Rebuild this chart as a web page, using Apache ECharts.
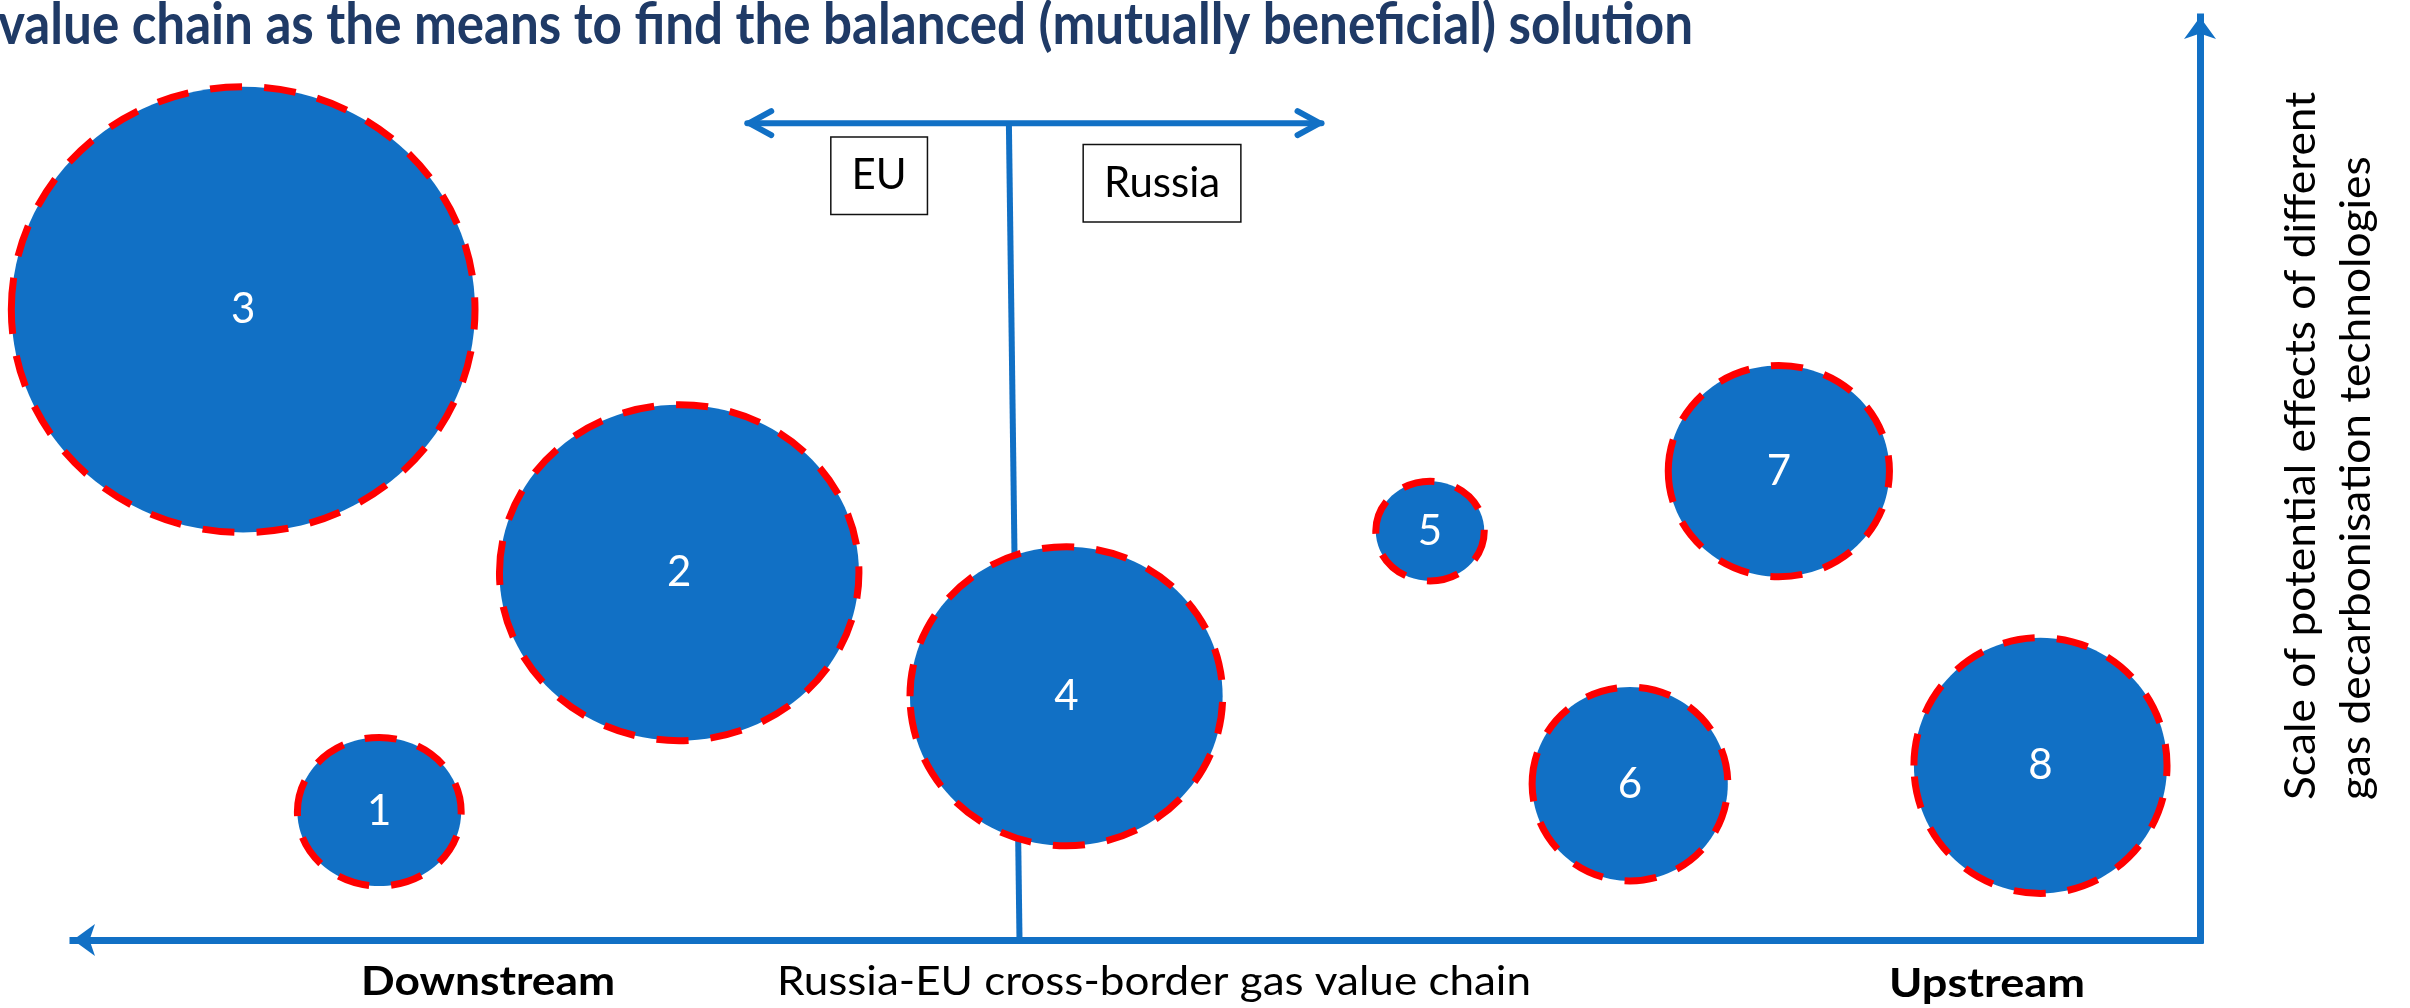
<!DOCTYPE html>
<html>
<head>
<meta charset="utf-8">
<title>Russia-EU cross-border gas value chain</title>
<script src="https://cdn.jsdelivr.net/npm/echarts@6/dist/echarts.min.js"></script>
<style>
  html, body { margin: 0; padding: 0; background: #fff; }
  #chart { width: 2410px; height: 1008px; }
</style>
</head>
<body>
<div id="chart"></div>
<script>
// technologies: position along the chain (0 = downstream, 100 = upstream)
// and scale of effect (0..100), bubble extent in axis units
const techIds   = ['1', '2', '3', '4', '5', '6', '7', '8'];
const chainPos  = [14.4, 28.5, 8.0, 46.7, 63.8, 73.2, 80.2, 92.5];
const effectLvl = [13.9, 39.8, 68.3, 26.4, 44.3, 16.9, 50.8, 18.9];
const bubbleW   = [7.7, 16.9, 21.8, 14.7, 5.1, 9.2, 10.4, 11.9];
const bubbleH   = [16.1, 36.4, 48.3, 32.4, 10.8, 21.0, 22.9, 27.7];

// EU | Russia border marker
const borderBar  = [[31.7, 88.5], [58.7, 88.5]];
const borderStem = [[44.0, 88.5], [44.5, 0]];
const sideNames  = ['EU', 'Russia'];
const sideX      = [37.9, 51.2];
const sideY      = [82.8, 82.0];

const BLUE = '#1170C5';
const RED = '#FF0000';
const NAVY = '#1F3A66';

const measureCtx = document.createElement('canvas').getContext('2d');
// horizontal squeeze so the text fills the given width (source font is condensed)
function squeeze(text, font, width) {
  measureCtx.font = font;
  return width / measureCtx.measureText(text).width;
}

const chart = echarts.init(document.getElementById('chart'), null, { renderer: 'canvas' });

const titleText = 'value chain as the means to find the balanced (mutually beneficial) solution';
const titleFont = 'bold 57px Lato';
const sideLine1 = 'Scale of potential effects of different';
const sideLine2 = 'gas decarbonisation technologies';
const sideFont = '42px Lato';
const sideScale = squeeze(sideLine1, sideFont, 708);

chart.setOption({
  animation: false,
  backgroundColor: '#fff',
  grid: { left: 73, right: 210, top: 17, bottom: 68 },
  xAxis: {
    type: 'value', min: 0, max: 100,
    axisLine: {
      show: true, onZero: false,
      symbol: ['arrow', 'none'], symbolSize: [24, 22],
      lineStyle: { color: BLUE, width: 7, cap: 'square' },
    },
    axisTick: { show: false }, axisLabel: { show: false }, splitLine: { show: false },
  },
  yAxis: {
    type: 'value', min: 0, max: 100, position: 'right',
    axisLine: {
      show: true, onZero: false,
      symbol: ['none', 'arrow'], symbolSize: [24, 22],
      lineStyle: { color: BLUE, width: 7, cap: 'square' },
    },
    axisTick: { show: false }, axisLabel: { show: false }, splitLine: { show: false },
  },
  graphic: [
    {
      type: 'text', x: -2, y: 26, scaleX: squeeze(titleText, titleFont, 1695),
      style: { text: titleText, font: titleFont, fill: NAVY, align: 'left', verticalAlign: 'middle' },
    },
    {
      type: 'text', x: 488, y: 982, scaleX: squeeze('Downstream', 'bold 40px Lato', 254),
      style: { text: 'Downstream', font: 'bold 40px Lato', fill: '#000', align: 'center', verticalAlign: 'middle' },
    },
    {
      type: 'text', x: 1154, y: 982,
      scaleX: squeeze('Russia-EU cross-border gas value chain', '40px Lato', 754),
      style: { text: 'Russia-EU cross-border gas value chain', font: '40px Lato', fill: '#000', align: 'center', verticalAlign: 'middle' },
    },
    {
      type: 'text', x: 1987, y: 984, scaleX: squeeze('Upstream', 'bold 40px Lato', 196),
      style: { text: 'Upstream', font: 'bold 40px Lato', fill: '#000', align: 'center', verticalAlign: 'middle' },
    },
    {
      type: 'text', x: 2301, y: 800, rotation: Math.PI / 2, scaleX: sideScale,
      style: { text: sideLine1, font: sideFont, fill: '#000', align: 'left', verticalAlign: 'middle' },
    },
    {
      type: 'text', x: 2356, y: 800, rotation: Math.PI / 2, scaleX: sideScale,
      style: { text: sideLine2, font: sideFont, fill: '#000', align: 'left', verticalAlign: 'middle' },
    },
  ],
  series: [
    {
      // T-shaped EU/Russia border marker
      type: 'custom',
      name: 'border',
      z: 1,
      clip: false,
      silent: true,
      data: [[borderStem[0][0], 50]],
      renderItem: (params, api) => {
        const a = api.coord(borderBar[0]);
        const b = api.coord(borderBar[1]);
        const s0 = api.coord(borderStem[0]);
        const s1 = api.coord(borderStem[1]);
        const st = { stroke: BLUE, lineWidth: 6, fill: null, lineCap: 'round', lineJoin: 'round' };
        return {
          type: 'group',
          children: [
            { type: 'line', shape: { x1: a[0], y1: a[1], x2: b[0], y2: b[1] }, style: st },
            { type: 'polyline', shape: { points: [[a[0] + 24, a[1] - 12], [a[0] + 2, a[1]], [a[0] + 24, a[1] + 12]] }, style: st },
            { type: 'polyline', shape: { points: [[b[0] - 24, b[1] - 12], [b[0] - 2, b[1]], [b[0] - 24, b[1] + 12]] }, style: st },
            { type: 'line', shape: { x1: s0[0], y1: s0[1], x2: s1[0], y2: s1[1] }, style: { stroke: BLUE, lineWidth: 6 } },
          ],
        };
      },
    },
    {
      type: 'custom',
      name: 'sides',
      z: 2,
      clip: false,
      silent: true,
      data: sideNames.map((n, i) => [sideX[i], sideY[i]]),
      renderItem: (params, api) => {
        const c = api.coord([api.value(0), api.value(1)]);
        return {
          type: 'text', x: c[0], y: c[1],
          style: {
            text: sideNames[params.dataIndex], font: '42px Lato', fill: '#000',
            align: 'center', verticalAlign: 'middle',
            padding: [17, 20], borderColor: '#111', borderWidth: 1.5, backgroundColor: '#fff',
          },
        };
      },
    },
    {
      type: 'custom',
      name: 'technologies',
      z: 3,
      clip: false,
      data: techIds.map((id, i) => [chainPos[i], effectLvl[i], bubbleW[i], bubbleH[i]]),
      encode: { x: 0, y: 1 },
      renderItem: (params, api) => {
        const c = api.coord([api.value(0), api.value(1)]);
        const s = api.size([api.value(2), api.value(3)]);
        return {
          type: 'group',
          children: [
            {
              type: 'ellipse',
              shape: { cx: c[0], cy: c[1], rx: s[0] / 2, ry: s[1] / 2 },
              style: { fill: BLUE, stroke: RED, lineWidth: 7, lineDash: [32, 22] },
            },
            {
              type: 'text', x: c[0], y: c[1],
              style: { text: techIds[params.dataIndex], font: '42px Lato', fill: '#fff', align: 'center', verticalAlign: 'middle' },
            },
          ],
        };
      },
    },
  ],
});

window.addEventListener('resize', () => chart.resize());
</script>
</body>
</html>
